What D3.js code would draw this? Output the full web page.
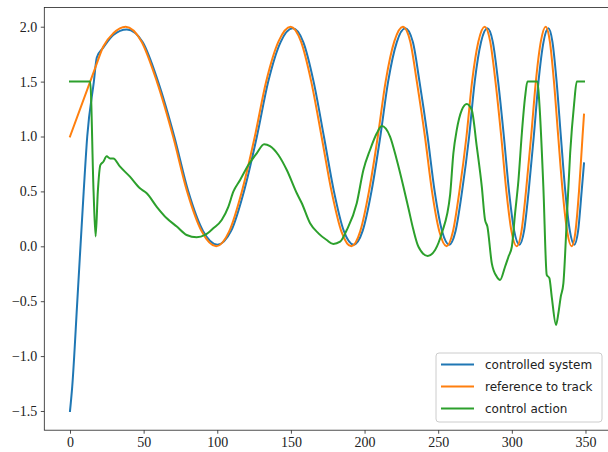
<!DOCTYPE html>
<html>
<head>
<meta charset="utf-8">
<script src="https://cdn.jsdelivr.net/npm/d3@7"></script>
<style>
  body { margin: 0; background: #fff; }
</style>
</head>
<body>
<div id="chart"></div>
<script>
// --- data ---
const xTicks = [0, 50, 100, 150, 200, 250, 300, 350];
const yTicks = [-1.5, -1.0, -0.5, 0.0, 0.5, 1.0, 1.5, 2.0];
const seriesNames = ["controlled system", "reference to track", "control action"];

// reference to track
const refX = [0, 17, 22.6, 29.4, 37.8,
  48.5, 59, 70, 79.5, 89.5, 99.3,
  108, 116.7, 125.5, 133.2, 141.6, 149.8,
  156.8, 163.8, 170.8, 177.6, 184.3, 191,
  197, 203, 209, 214.3, 220.2, 226,
  231, 235.5, 241, 245.8, 250.8, 255.7,
  260, 264.4, 269.2, 273, 277.3, 281.6,
  285.3, 288.9, 292.8, 296.3, 299.8, 303.3,
  306.5, 309.6, 313.1, 316.3, 319.7, 323,
  325.8, 328.6, 331.5, 334.5, 337.6, 340.6,
  343.2, 345.6, 348, 349];
const refY = [1.0, 1.62, 1.82, 1.94, 2.0,
  1.866, 1.5, 1.0, 0.5, 0.134, 0.0,
  0.134, 0.5, 1.0, 1.5, 1.866, 2.0,
  1.866, 1.5, 1.0, 0.5, 0.134, 0.0,
  0.134, 0.5, 1.0, 1.5, 1.866, 2.0,
  1.866, 1.5, 1.0, 0.5, 0.134, 0.0,
  0.134, 0.5, 1.0, 1.5, 1.866, 2.0,
  1.866, 1.5, 1.0, 0.5, 0.134, 0.0,
  0.134, 0.5, 1.0, 1.5, 1.866, 2.0,
  1.866, 1.5, 1.0, 0.5, 0.134, 0.0,
  0.134, 0.5, 1.0, 1.2];

// controlled system
const sysX = [0, 1.5, 5, 9.3, 11.7, 16.2, 18.2, 22.6, 29.4, 38.6,
  49.3, 59.8, 70.8, 80.3, 90.3, 100.1,
  109.4, 118.1, 126.9, 134.6, 143, 151.2,
  158.4, 165.4, 172.4, 179.2, 185.9, 192.6,
  198.7, 204.7, 210.7, 216, 221.9, 227.7,
  232.8, 237.3, 242.8, 247.6, 252.6, 257.5,
  261.8, 266.2, 271, 274.8, 279.1, 283.4,
  287.1, 290.7, 294.6, 298.1, 301.6, 305.1,
  308.3, 311.4, 314.9, 318.1, 321.5, 324.8,
  327.6, 330.4, 333.3, 336.3, 339.4, 342.4,
  345, 347.4, 349];
const sysY = [-1.5, -1.28, -0.49, 0.5, 1.0, 1.5, 1.72, 1.81, 1.925, 1.975,
  1.86, 1.5, 1.0, 0.5, 0.14, 0.015,
  0.14, 0.5, 1.0, 1.5, 1.86, 1.985,
  1.86, 1.5, 1.0, 0.5, 0.14, 0.015,
  0.14, 0.5, 1.0, 1.5, 1.86, 1.985,
  1.86, 1.5, 1.0, 0.5, 0.14, 0.015,
  0.14, 0.5, 1.0, 1.5, 1.86, 1.985,
  1.86, 1.5, 1.0, 0.5, 0.14, 0.015,
  0.14, 0.5, 1.0, 1.5, 1.86, 1.985,
  1.86, 1.5, 1.0, 0.5, 0.14, 0.015,
  0.14, 0.5, 0.756];

// control action
const ctrlX = [0, 13.7, 16.0, 17.4, 18.9, 20.6, 22.6, 24.9, 27.2, 29.4, 34, 40.7, 47.5, 52.1, 58.9,
  65.7, 72.5, 79.2, 86, 91.7, 97.3, 103, 107.5, 110.9, 115.5, 121.1, 126.8, 131.8, 135.8, 141.5,
  147.2, 154, 157.4, 163, 168.7, 174.3, 178.8, 183.4, 187.9, 194.7, 199.2, 203.7, 208.3, 211.7,
  217.3, 221.9, 226.4, 229.8, 233.2, 236.6, 242.9, 247.9, 252.4, 258.1, 260.3, 262.6, 266, 269.4,
  272.8, 276.2, 279.6, 281.8, 283.4, 286.4, 289.8, 292, 295.4, 297.7, 300, 302.2, 304.5, 306.8,
  309, 310.6, 317.4, 318.7, 321.4, 323.7, 325.5, 327.1, 330, 331.6, 333.2, 335, 337.3, 339.6,
  342.3, 344.1, 349];
const ctrlY = [1.5, 1.5, 0.5, 0.09, 0.5, 0.74, 0.77, 0.82, 0.80, 0.80, 0.725, 0.634, 0.528, 0.483, 0.36,
  0.255, 0.18, 0.103, 0.082, 0.103, 0.164, 0.24, 0.36, 0.497, 0.604, 0.74, 0.847, 0.929, 0.913, 0.832,
  0.695, 0.483, 0.392, 0.21, 0.118, 0.057, 0.021, 0.042, 0.148, 0.392, 0.695, 0.877, 1.029, 1.096,
  1.0, 0.786, 0.543, 0.346, 0.148, -0.004, -0.088, -0.034, 0.118, 0.47, 0.847, 1.06, 1.24, 1.296,
  1.24, 0.907, 0.543, 0.24, 0.18, -0.155, -0.277, -0.307, -0.186, -0.095, -0.004, 0.30, 0.604, 1.03,
  1.36, 1.5, 1.5, 1.30, 0.543, -0.26, -0.29, -0.46, -0.717, -0.61, -0.46, -0.337, 0.24, 0.847,
  1.30, 1.5, 1.5];

const colors = ["#1f77b4", "#ff7f0e", "#2ca02c"];

// --- sizes ---
const width = 608, height = 452;

const svg = d3.select("#chart").append("svg")
  .attr("width", width)
  .attr("height", height);

// --- scales (matplotlib 5% margins) ---
const x = d3.scaleLinear().domain([-17.45, 366.45]).range([44.3, 609.7]);
const y = d3.scaleLinear().domain([-1.675, 2.175]).range([430.2, 7.5]);

const toPts = (xs, ys) => xs.map((v, i) => [v, ys[i]]);
const line = d3.line()
  .x(d => x(d[0]))
  .y(d => y(d[1]))
  .curve(d3.curveMonotoneX);

const series = [toPts(sysX, sysY), toPts(refX, refY), toPts(ctrlX, ctrlY)];

svg.selectAll("path.series")
  .data(series)
  .join("path")
  .attr("class", "series")
  .attr("d", line)
  .attr("fill", "none")
  .attr("stroke", (d, i) => colors[i])
  .attr("stroke-width", 2)
  .attr("stroke-linejoin", "round")
  .attr("stroke-linecap", "square");

// --- axes ---
const xAxis = svg.append("g")
  .attr("transform", `translate(0,${y.range()[0]})`)
  .call(d3.axisBottom(x).tickValues(xTicks).tickSize(3.5).tickPadding(3.5).tickFormat(d3.format("d")));

const yAxis = svg.append("g")
  .attr("transform", `translate(${x.range()[0]},0)`)
  .call(d3.axisLeft(y).tickValues(yTicks).tickSize(3.5).tickPadding(3.5).tickFormat(d3.format(".1f")));

[xAxis, yAxis].forEach(g => {
  g.select(".domain").remove();
  g.selectAll(".tick line").attr("stroke", "#222").attr("stroke-width", 0.8);
  g.selectAll(".tick text")
    .style("font-family", "'Liberation Serif', 'DejaVu Serif', serif")
    .style("font-size", "14px")
    .attr("fill", "#222");
});

// frame (right side falls just outside the picture)
svg.append("rect")
  .attr("x", x.range()[0])
  .attr("y", y.range()[1])
  .attr("width", x.range()[1] - x.range()[0])
  .attr("height", y.range()[0] - y.range()[1])
  .attr("fill", "none")
  .attr("stroke", "#222")
  .attr("stroke-width", 0.8);

// --- legend ---
const legend = svg.append("g").attr("transform", "translate(436,353)");
legend.append("rect")
  .attr("width", 166)
  .attr("height", 69)
  .attr("rx", 3)
  .attr("fill", "rgba(255,255,255,0.8)")
  .attr("stroke", "#ccc")
  .attr("stroke-width", 1);

const rows = legend.selectAll("g.row")
  .data(seriesNames)
  .join("g")
  .attr("class", "row")
  .attr("transform", (d, i) => `translate(0,${11.5 + i * 22})`);

rows.append("line")
  .attr("x1", 5).attr("x2", 38)
  .attr("stroke", (d, i) => colors[i])
  .attr("stroke-width", 2);

rows.append("text")
  .text(d => d)
  .attr("x", 49)
  .attr("y", 4.3)
  .style("font-family", "DejaVu Sans, sans-serif")
  .style("font-size", "12px")
  .attr("fill", "#222");
</script>
</body>
</html>
